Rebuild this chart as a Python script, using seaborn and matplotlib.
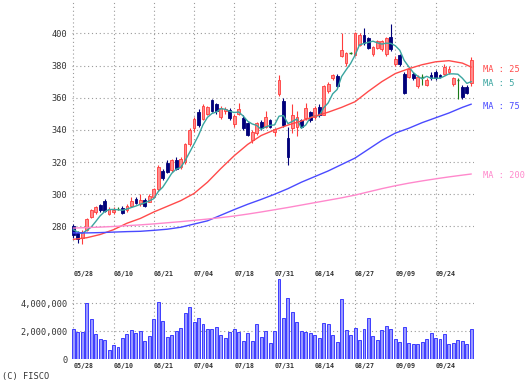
import matplotlib
matplotlib.use("Agg")
import matplotlib.pyplot as plt
import numpy as np
import pandas as pd
import seaborn as sns

# ---------------- data ----------------
date_labels = ["05/28", "06/10", "06/21", "07/04", "07/18", "07/31",
               "08/14", "08/27", "09/09", "09/24"]
date_pos = [0, 9, 18, 27, 36, 45, 54, 63, 72, 81]

opens = [280, 276, 273, 278, 286, 289, 293.5, 296, 288, 289,
         291, 291.5, 290, 292.5, 297, 294, 296.5, 295.5, 298.5, 303,
         314.5, 319.5, 315, 321, 317, 320, 331, 341, 351, 347,
         350, 358.5, 356, 348, 352, 352.6, 343.5, 350, 347.4, 344.3,
         334, 338, 345, 342, 346, 338.5, 362, 357.7, 335, 341,
         342, 346, 347.4, 351, 348, 354, 349.4, 364, 372, 373.6,
         385.8, 381.4, 387.8, 386.4, 393, 399, 397, 387.4, 391, 390,
         387, 398, 381.2, 386.4, 375, 373, 375, 367, 372.6, 368,
         374, 376, 374, 375, 376, 368.8, 371, 366.8, 366.8, 368.9]
highs = [281.5, 277, 278, 285.5, 291, 293, 294, 297, 292, 292,
         292, 292.5, 294, 298, 298, 300, 297.5, 300, 304, 318,
         316, 321, 322, 323, 323, 332, 341, 348, 353, 356,
         355, 359, 357, 355, 354, 353.5, 350, 357, 349, 345,
         340, 345, 346, 352, 347, 341, 374, 360, 342, 356,
         352, 347, 357, 352, 355, 356, 368, 370, 375, 375,
         400, 388.5, 388.5, 401, 400.5, 403, 398, 392, 396, 396,
         398, 406, 386, 387, 376, 379, 376, 374, 375, 372,
         376, 377, 375, 381, 380, 373, 372, 368, 368, 385]
lows = [273, 270, 269, 277, 285, 288, 289, 289, 287, 288,
        290, 288, 289, 292, 294, 293, 292, 295, 298, 302,
        309, 313, 314, 315, 316, 319, 330, 339, 342, 346,
        349, 351, 350, 347, 350, 346, 342, 349, 340, 336,
        332, 337, 340, 341, 341, 336, 361, 342, 318, 338,
        336, 341, 346, 345, 347, 348, 349, 363, 371, 366,
        385, 380, 387, 386, 392, 393, 390, 386, 390, 389,
        386, 389, 380, 380, 362, 372, 371, 366, 368, 367,
        371, 371, 372.5, 374, 375, 367.5, 359, 359, 362, 367]
closes = [275, 272, 276.5, 284.5, 290, 292, 290, 289.5, 291, 290.5,
          291, 288.5, 293, 296, 294.8, 296.5, 293, 299, 303, 317,
          310, 314, 321, 316, 322, 331, 340, 347, 343, 355,
          354, 352, 351.5, 353.5, 353, 347.4, 348.5, 353, 341, 337,
          339, 344, 341, 348, 342, 340.3, 371, 343.2, 323, 349,
          348, 342, 353.6, 346, 353.6, 349, 367, 368.5, 374, 367,
          389.5, 387.6, 387.8, 400, 399, 394, 391, 391.5, 395, 395,
          397, 390, 384.3, 381.2, 363, 378, 372, 373, 372.6, 371,
          372, 372, 373, 379, 378, 372, 371, 360.6, 363, 383.3]
volumes_m = [2.14, 1.95, 1.95, 4.05, 2.9, 1.79, 1.43, 1.36, 0.67, 1.02,
             0.9, 1.55, 1.79, 2.07, 1.86, 2.02, 1.33, 1.67, 2.86, 4.1,
             2.74, 1.62, 1.74, 2.02, 2.26, 3.33, 3.76, 2.67, 2.93, 2.5,
             2.14, 2.14, 2.33, 1.71, 1.55, 1.95, 2.19, 1.98, 1.31, 1.88,
             1.31, 2.5, 1.62, 2.02, 1.14, 2.02, 5.71, 2.93, 4.4, 3.38,
             2.67, 2.02, 1.95, 1.88, 1.74, 1.5, 2.57, 2.5, 1.74, 1.26,
             4.29, 2.1, 1.71, 2.26, 1.38, 2.14, 2.98, 1.67, 1.38, 2.07,
             2.38, 2.14, 1.48, 1.26, 2.31, 1.14, 1.07, 1.07, 1.26, 1.43,
             1.9, 1.55, 1.43, 1.79, 1.07, 1.14, 1.38, 1.31, 1.07, 2.14]

ma5 = [278, 276.5, 275.8, 277.5, 279.6, 283, 286.6, 289.2, 290.5, 290.6,
       290.4, 290.1, 290.8, 291.8, 292.7, 293.8, 294.7, 295.9, 297.3, 301.7,
       304.4, 308.6, 313, 315.6, 316.6, 320.8, 326, 331.2, 336.6, 343.2,
       347.8, 350.2, 351.1, 353.2, 352.8, 351.5, 350.8, 351.1, 348.6, 345.4,
       343.7, 342.8, 340.4, 341.8, 342.8, 343.1, 348.5, 348.9, 343.9, 345.3,
       346.8, 341, 343.1, 347.7, 348.6, 348.8, 353.8, 356.8, 362.4, 365.1,
       373.2, 377.3, 381.2, 386.4, 392.8, 393.7, 394.4, 395.1, 394.1, 393.3,
       393.9, 393.7, 392.3, 389.5, 383.1, 379.3, 375.7, 373.4, 371.7, 373.3,
       372.1, 372.1, 372.1, 373.4, 374.8, 374.8, 374.6, 372.1, 368.9, 370]

ma_idx = [0, 3, 6, 9, 12, 15, 18, 21, 24, 27, 30, 33, 36, 39, 42, 45,
          48, 51, 54, 57, 60, 63, 66, 69, 72, 75, 78, 81, 84, 87, 89]
ma25 = [272, 273, 275, 278, 282, 285, 289, 292.5, 296, 300.5, 307.5, 316,
        324, 331, 336.5, 340, 343, 345.5, 348.5, 351, 354, 357.5, 364, 370,
        375, 378, 380.5, 382.3, 383, 381.5, 379]
ma75 = [276, 276, 276.2, 276.5, 276.8, 277, 277.6, 278.3, 279.5, 281.5,
        283.5, 287, 290.5, 293.8, 296.8, 300, 303.5, 307.5, 311, 314.5,
        318.5, 322.5, 328, 333.5, 338, 341, 344.5, 347.5, 350.5, 354, 356]
ma200 = [279, 279.3, 279.6, 280, 280.5, 281, 281.6, 282.3, 283, 283.8,
         284.6, 285.5, 286.5, 287.7, 289, 290.4, 291.8, 293.3, 294.8, 296.3,
         297.8, 299.5, 301.5, 303.5, 305.3, 306.9, 308.3, 309.6, 310.8, 311.9,
         312.6]

price_ticks = [280, 300, 320, 340, 360, 380, 400]
vol_ticks = [0, 2000000, 4000000]
vol_tick_labels = ["0", "2,000,000", "4,000,000"]

# ---------------- style ----------------
sns.set_style("white")
plt.rcParams["font.family"] = ["DejaVu Sans Mono", "DejaVu Sans"]

C_UP_FACE = "#ff8c8c"
C_UP_EDGE = "#ff3c3c"
C_DOWN = "#00007a"
C_DOJI = "#1a7a1a"
C_MA5 = "#3aa5a0"
C_MA25 = "#ff4a4a"
C_MA75 = "#4a4aff"
C_MA200 = "#ff88cc"
C_GRID = "#9a9a9a"
C_TEXT = "#333333"

W, H = 532, 386
fig = plt.figure(figsize=(W / 100, H / 100), dpi=100)
fig.patch.set_facecolor("white")

left = 71.5 / W
width = 402.5 / W
ax = fig.add_axes([left, (H - 268) / H, width, 268 / H])
axv = fig.add_axes([left, (H - 359.3) / H, width, 80.3 / H])

n = len(closes)
idx = np.arange(n)
df = pd.DataFrame({"i": idx, "open": opens, "high": highs, "low": lows,
                   "close": closes, "volume": np.array(volumes_m) * 1e6})

# ---------------- candles ----------------
bw = 0.62
for r in df.itertuples():
    if r.close > r.open:
        col, face = C_UP_EDGE, C_UP_FACE
    elif r.close < r.open:
        col, face = C_DOWN, C_DOWN
    else:
        col, face = C_DOJI, C_DOJI
    ax.vlines(r.i, r.low, r.high, color=col, linewidth=0.8, zorder=3)
    if r.close == r.open:
        ax.hlines(r.open, r.i - bw / 2, r.i + bw / 2, color=col,
                  linewidth=1.0, zorder=4)
    else:
        lo = min(r.open, r.close)
        ax.bar(r.i, abs(r.close - r.open), bottom=lo, width=bw,
               facecolor=face, edgecolor=col, linewidth=0.6, zorder=4)

# ---------------- moving averages ----------------
sns.lineplot(x=idx, y=ma5, ax=ax, color=C_MA5, linewidth=1.0, zorder=5)
sns.lineplot(x=ma_idx, y=ma25, ax=ax, color=C_MA25, linewidth=1.0, zorder=5)
sns.lineplot(x=ma_idx, y=ma75, ax=ax, color=C_MA75, linewidth=1.0, zorder=5)
sns.lineplot(x=ma_idx, y=ma200, ax=ax, color=C_MA200, linewidth=1.0, zorder=5)

label_x = 91.6
for txt, val, col in [("MA : 25", ma25[-1] - 1.2, C_MA25),
                      ("MA : 5", ma5[-1] - 1.2, C_MA5),
                      ("MA : 75", ma75[-1] - 1.2, C_MA75),
                      ("MA : 200", ma200[-1] - 1.2, C_MA200)]:
    ax.text(label_x, val, txt, color=col, fontsize=6.2, va="center",
            ha="left", clip_on=False)

ax.set_xlim(-0.4, 89.6)
ax.set_ylim(254.2, 420.7)
ax.set_yticks(price_ticks)
ax.set_yticklabels([str(t) for t in price_ticks])
ax.set_xticks(date_pos)
ax.set_xticklabels(date_labels, ha="left")
ax.set_xlabel("")
ax.set_ylabel("")

# ---------------- volume ----------------
sns.barplot(data=df, x="i", y="volume", ax=axv, order=list(idx),
            color="#9a9aff", width=0.66, edgecolor="#3c3cff",
            linewidth=0.7, saturation=1, zorder=3)
axv.set_xlim(-0.4, 89.6)
axv.set_ylim(0, 5.74e6)
axv.set_yticks(vol_ticks)
axv.set_yticklabels(vol_tick_labels)
axv.set_xticks(date_pos)
axv.set_xticklabels(date_labels, ha="left")
axv.set_xlabel("")
axv.set_ylabel("")

for a in (ax, axv):
    for s in a.spines.values():
        s.set_visible(False)
    a.grid(True, color=C_GRID, linestyle=(0, (1, 2.5)), linewidth=0.8, zorder=0)
    a.set_axisbelow(True)
    a.tick_params(axis="both", length=0, colors=C_TEXT)
    a.tick_params(axis="y", labelsize=6.2, pad=3)
    a.tick_params(axis="x", labelsize=4.8, pad=2.5)
    for t in a.get_xticklabels():
        t.set_fontweight("bold")
    a.set_facecolor("white")

fig.text(2 / W, 1 - 377 / H, "(C) FISCO", fontsize=6.2, va="center",
         ha="left", color=C_TEXT)

fig.savefig("out.png", dpi=100, facecolor="white")
